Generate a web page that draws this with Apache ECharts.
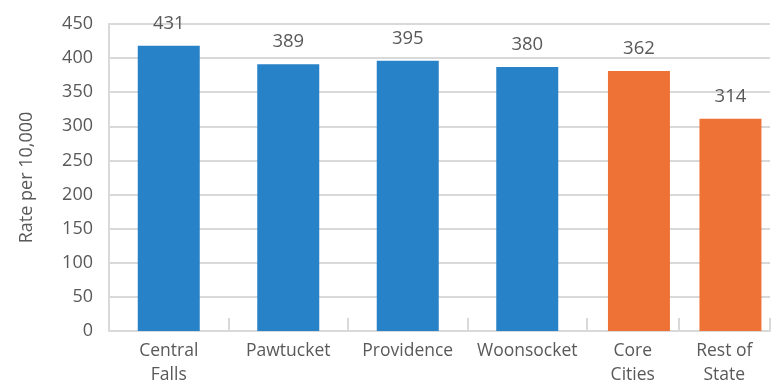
<!DOCTYPE html>
<html><head><meta charset="utf-8">
<script src="https://cdn.jsdelivr.net/npm/echarts@6/dist/echarts.min.js"></script>
<style>html,body{margin:0;padding:0;background:#fff}#c{width:776px;height:387px}</style>
</head><body><div id="c"></div>
<script>
const citiesCategories = ['Central\nFalls', 'Pawtucket', 'Providence', 'Woonsocket'];
const citiesValues = [418, 391, 396, 387];
const citiesLabels = [431, 389, 395, 380];
const groupCategories = ['Core\nCities', 'Rest of\nState'];
const groupValues = [381, 311];
const groupLabels = [362, 314];
const yTicks = [0, 50, 100, 150, 200, 250, 300, 350, 400, 450];

const FONT = '"Open Sans", "Noto Sans", sans-serif';
const TXT = '#595959';
const GRID = '#d9d9d9';

function xAxisCfg(idx, cats) {
  return {
    type: 'category', gridIndex: idx, data: cats,
    axisLine: {show: true, lineStyle: {color: GRID, width: 2}},
    axisTick: {show: true, inside: true, length: 13, lineStyle: {color: GRID, width: 2}},
    axisLabel: {color: TXT, fontFamily: FONT, fontSize: 17.5, margin: 8, lineHeight: 24, interval: 0}
  };
}
function yAxisCfg(idx, showAll) {
  return {
    type: 'value', gridIndex: idx, min: yTicks[0], max: yTicks[yTicks.length - 1], interval: 50,
    axisLine: {show: showAll, lineStyle: {color: GRID, width: 2}},
    axisTick: {show: false},
    axisLabel: {show: showAll, color: TXT, fontFamily: FONT, fontSize: 18, margin: 16},
    splitLine: {show: true, lineStyle: {color: GRID, width: 2}},
    name: showAll ? 'Rate per 10,000' : '', nameLocation: 'middle', nameGap: 73,
    nameTextStyle: {color: TXT, fontFamily: FONT, fontSize: 18}
  };
}
function labelCfg(labels) {
  return {
    show: true, position: 'top', distance: 13, color: TXT, fontFamily: FONT, fontSize: 18.5,
    formatter: p => String(labels[p.dataIndex])
  };
}
const chart = echarts.init(document.getElementById('c'), null, {renderer: 'canvas'});
chart.setOption({
  animation: false,
  grid: [
    {left: 109, top: 24, width: 478, height: 308},
    {left: 587, top: 24, width: 183, height: 308}
  ],
  xAxis: [xAxisCfg(0, citiesCategories), xAxisCfg(1, groupCategories)],
  yAxis: [yAxisCfg(0, true), yAxisCfg(1, false)],
  series: [
    {type: 'bar', xAxisIndex: 0, yAxisIndex: 0, data: citiesValues, barWidth: 62,
     itemStyle: {color: '#2782c8'}, label: labelCfg(citiesLabels)},
    {type: 'bar', xAxisIndex: 1, yAxisIndex: 1, data: [null, null], barWidth: 62, silent: true},
    {type: 'bar', xAxisIndex: 1, yAxisIndex: 1, data: groupValues, barWidth: 62, barGap: '-80%',
     itemStyle: {color: '#ee7236'}, label: labelCfg(groupLabels)}
  ]
});
</script></body></html>
